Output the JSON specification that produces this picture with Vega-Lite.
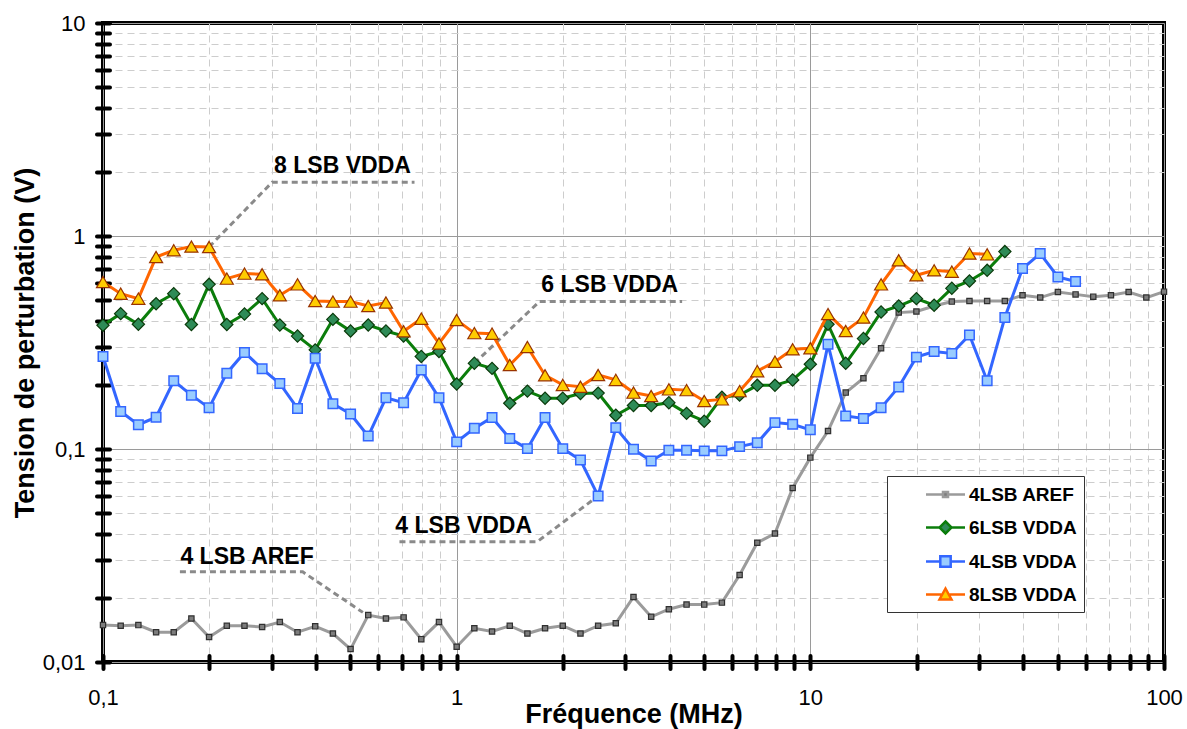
{
  "$schema": "https://vega.github.io/schema/vega-lite/v6.json",
  "width": 1061,
  "height": 639,
  "autosize": {"type": "none"},
  "padding": {"left": 103, "top": 23, "right": 23, "bottom": 67},
  "background": "white",
  "view": {"stroke": "black", "strokeWidth": 4, "fill": "white"},
  "datasets": {
    "mesures": [
      {"f": 0.1, "aref4": 0.0149, "vdda6": 0.381, "vdda4": 0.272, "vdda8": 0.608},
      {"f": 0.1122, "aref4": 0.0148, "vdda6": 0.432, "vdda4": 0.150, "vdda8": 0.536},
      {"f": 0.1259, "aref4": 0.0149, "vdda6": 0.385, "vdda4": 0.130, "vdda8": 0.508},
      {"f": 0.1413, "aref4": 0.0138, "vdda6": 0.481, "vdda4": 0.141, "vdda8": 0.797},
      {"f": 0.1585, "aref4": 0.0138, "vdda6": 0.536, "vdda4": 0.209, "vdda8": 0.857},
      {"f": 0.1778, "aref4": 0.0160, "vdda6": 0.384, "vdda4": 0.179, "vdda8": 0.892},
      {"f": 0.1995, "aref4": 0.0131, "vdda6": 0.593, "vdda4": 0.156, "vdda8": 0.888},
      {"f": 0.2239, "aref4": 0.0148, "vdda6": 0.384, "vdda4": 0.227, "vdda8": 0.631},
      {"f": 0.2512, "aref4": 0.0148, "vdda6": 0.430, "vdda4": 0.284, "vdda8": 0.666},
      {"f": 0.2818, "aref4": 0.0146, "vdda6": 0.508, "vdda4": 0.238, "vdda8": 0.661},
      {"f": 0.3162, "aref4": 0.0154, "vdda6": 0.382, "vdda4": 0.203, "vdda8": 0.527},
      {"f": 0.3548, "aref4": 0.0138, "vdda6": 0.339, "vdda4": 0.155, "vdda8": 0.593},
      {"f": 0.3981, "aref4": 0.0147, "vdda6": 0.292, "vdda4": 0.267, "vdda8": 0.495},
      {"f": 0.4467, "aref4": 0.0136, "vdda6": 0.406, "vdda4": 0.163, "vdda8": 0.492},
      {"f": 0.5012, "aref4": 0.0115, "vdda6": 0.358, "vdda4": 0.146, "vdda8": 0.492},
      {"f": 0.5623, "aref4": 0.0166, "vdda6": 0.382, "vdda4": 0.115, "vdda8": 0.469},
      {"f": 0.631, "aref4": 0.0160, "vdda6": 0.358, "vdda4": 0.174, "vdda8": 0.487},
      {"f": 0.7079, "aref4": 0.0162, "vdda6": 0.339, "vdda4": 0.165, "vdda8": 0.357},
      {"f": 0.7943, "aref4": 0.0128, "vdda6": 0.272, "vdda4": 0.235, "vdda8": 0.409},
      {"f": 0.8913, "aref4": 0.0154, "vdda6": 0.287, "vdda4": 0.174, "vdda8": 0.313},
      {"f": 1.0, "aref4": 0.0118, "vdda6": 0.202, "vdda4": 0.108, "vdda8": 0.403},
      {"f": 1.122, "aref4": 0.0144, "vdda6": 0.2525, "vdda4": 0.125, "vdda8": 0.350},
      {"f": 1.259, "aref4": 0.0139, "vdda6": 0.239, "vdda4": 0.1405, "vdda8": 0.348},
      {"f": 1.413, "aref4": 0.0148, "vdda6": 0.164, "vdda4": 0.112, "vdda8": 0.248},
      {"f": 1.585, "aref4": 0.0136, "vdda6": 0.187, "vdda4": 0.1004, "vdda8": 0.301},
      {"f": 1.778, "aref4": 0.0144, "vdda6": 0.173, "vdda4": 0.1405, "vdda8": 0.222},
      {"f": 1.995, "aref4": 0.0148, "vdda6": 0.173, "vdda4": 0.1004, "vdda8": 0.200},
      {"f": 2.239, "aref4": 0.0136, "vdda6": 0.182, "vdda4": 0.0888, "vdda8": 0.196},
      {"f": 2.512, "aref4": 0.0148, "vdda6": 0.183, "vdda4": 0.0602, "vdda8": 0.2226},
      {"f": 2.818, "aref4": 0.0152, "vdda6": 0.144, "vdda4": 0.126, "vdda8": 0.211},
      {"f": 3.162, "aref4": 0.0202, "vdda6": 0.160, "vdda4": 0.0997, "vdda8": 0.184},
      {"f": 3.548, "aref4": 0.0163, "vdda6": 0.160, "vdda4": 0.0879, "vdda8": 0.1774},
      {"f": 3.981, "aref4": 0.0177, "vdda6": 0.165, "vdda4": 0.0986, "vdda8": 0.1906},
      {"f": 4.467, "aref4": 0.0186, "vdda6": 0.147, "vdda4": 0.0986, "vdda8": 0.189},
      {"f": 5.012, "aref4": 0.0186, "vdda6": 0.135, "vdda4": 0.098, "vdda8": 0.168},
      {"f": 5.623, "aref4": 0.0190, "vdda6": 0.175, "vdda4": 0.098, "vdda8": 0.171},
      {"f": 6.31, "aref4": 0.0256, "vdda6": 0.179, "vdda4": 0.1026, "vdda8": 0.187},
      {"f": 7.079, "aref4": 0.0363, "vdda6": 0.199, "vdda4": 0.107, "vdda8": 0.232},
      {"f": 7.943, "aref4": 0.0401, "vdda6": 0.199, "vdda4": 0.133, "vdda8": 0.257},
      {"f": 8.913, "aref4": 0.0656, "vdda6": 0.211, "vdda4": 0.1306, "vdda8": 0.294},
      {"f": 10, "aref4": 0.0911, "vdda6": 0.250, "vdda4": 0.123, "vdda8": 0.297},
      {"f": 11.22, "aref4": 0.1215, "vdda6": 0.385, "vdda4": 0.310, "vdda8": 0.430},
      {"f": 12.59, "aref4": 0.184, "vdda6": 0.2525, "vdda4": 0.143, "vdda8": 0.358},
      {"f": 14.13, "aref4": 0.215, "vdda6": 0.330, "vdda4": 0.139, "vdda8": 0.414},
      {"f": 15.85, "aref4": 0.297, "vdda6": 0.440, "vdda4": 0.156, "vdda8": 0.593},
      {"f": 17.78, "aref4": 0.437, "vdda6": 0.469, "vdda4": 0.1955, "vdda8": 0.769},
      {"f": 19.95, "aref4": 0.442, "vdda6": 0.508, "vdda4": 0.270, "vdda8": 0.654},
      {"f": 22.39, "aref4": 0.469, "vdda6": 0.473, "vdda4": 0.287, "vdda8": 0.690},
      {"f": 25.12, "aref4": 0.492, "vdda6": 0.568, "vdda4": 0.281, "vdda8": 0.680},
      {"f": 28.18, "aref4": 0.495, "vdda6": 0.615, "vdda4": 0.343, "vdda8": 0.827},
      {"f": 31.62, "aref4": 0.495, "vdda6": 0.690, "vdda4": 0.209, "vdda8": 0.820},
      {"f": 35.48, "aref4": 0.495, "vdda6": 0.845, "vdda4": 0.414},
      {"f": 39.81, "aref4": 0.527, "vdda4": 0.703},
      {"f": 44.67, "aref4": 0.514, "vdda4": 0.827},
      {"f": 50.12, "aref4": 0.546, "vdda4": 0.642},
      {"f": 56.23, "aref4": 0.532, "vdda4": 0.611},
      {"f": 63.1, "aref4": 0.519},
      {"f": 70.79, "aref4": 0.527},
      {"f": 79.43, "aref4": 0.546},
      {"f": 89.13, "aref4": 0.514},
      {"f": 100, "aref4": 0.548}
    ],
    "renvois": [
      {"id": "8", "o": 0, "f": 0.1995, "v": 0.888},
      {"id": "8", "o": 1, "f": 0.301, "v": 1.79},
      {"id": "8", "o": 2, "f": 0.76, "v": 1.79},
      {"id": "6", "o": 0, "f": 1.122, "v": 0.2525},
      {"id": "6", "o": 1, "f": 1.713, "v": 0.492},
      {"id": "6", "o": 2, "f": 4.34, "v": 0.492},
      {"id": "4", "o": 0, "f": 0.689, "v": 0.0367},
      {"id": "4", "o": 1, "f": 1.69, "v": 0.0367},
      {"id": "4", "o": 2, "f": 2.512, "v": 0.0602},
      {"id": "a", "o": 0, "f": 0.165, "v": 0.0265},
      {"id": "a", "o": 1, "f": 0.367, "v": 0.0265},
      {"id": "a", "o": 2, "f": 0.543, "v": 0.0171}
    ],
    "etiquettes": [
      {"label": "8 LSB VDDA", "f": 0.4755, "v": 1.985},
      {"label": "6 LSB VDDA", "f": 2.709, "v": 0.546},
      {"label": "4 LSB VDDA", "f": 1.047, "v": 0.0402},
      {"label": "4 LSB AREF", "f": 0.2555, "v": 0.02897}
    ]
  },
  "data": {"name": "mesures"},
  "encoding": {
    "x": {
      "field": "f",
      "type": "quantitative",
      "title": "Fréquence (MHz)",
      "scale": {"type": "log", "domain": [0.1, 100], "nice": false},
      "axis": {
        "values": [0.1, 0.2, 0.3, 0.4, 0.5, 0.6, 0.7, 0.8, 0.9, 1, 2, 3, 4, 5, 6, 7, 8, 9, 10, 20, 30, 40, 50, 60, 70, 80, 90, 100],
        "offset": -6.5,
        "domain": false,
        "ticks": true,
        "tickSize": 13,
        "tickWidth": 4,
        "tickCap": "round",
        "tickColor": "black",
        "grid": true,
        "gridWidth": 1,
        "gridColor": {"condition": {"test": "abs(log(datum.value)/LN10 - round(log(datum.value)/LN10)) < 1e-6", "value": "#9A9A9A"}, "value": "#CDCDCD"},
        "gridDash": {"condition": {"test": "abs(log(datum.value)/LN10 - round(log(datum.value)/LN10)) < 1e-6", "value": []}, "value": [7, 5]},
        "labelExpr": "abs(log(datum.value)/LN10 - round(log(datum.value)/LN10)) < 1e-6 ? replace(format(datum.value, '~g'), '.', ',') : ''",
        "labelFont": "Liberation Sans",
        "labelFontSize": 22,
        "labelColor": "black",
        "labelPadding": 19,
        "labelFlush": false,
        "labelOverlap": false,
        "titleFont": "Liberation Sans",
        "titleFontSize": 27,
        "titleFontWeight": "bold",
        "titleColor": "black",
        "titleBaseline": "alphabetic",
        "titleY": 66.5
      }
    },
    "y": {
      "field": "v",
      "type": "quantitative",
      "title": "Tension de perturbation (V)",
      "scale": {"type": "log", "domain": [0.01, 10], "nice": false},
      "axis": {
        "values": [0.01, 0.02, 0.03, 0.04, 0.05, 0.06, 0.07, 0.08, 0.09, 0.1, 0.2, 0.3, 0.4, 0.5, 0.6, 0.7, 0.8, 0.9, 1, 2, 3, 4, 5, 6, 7, 8, 9, 10],
        "offset": -6.5,
        "domain": false,
        "ticks": true,
        "tickSize": 13,
        "tickWidth": 4,
        "tickCap": "round",
        "tickColor": "black",
        "grid": true,
        "gridWidth": 1,
        "gridColor": {"condition": {"test": "abs(log(datum.value)/LN10 - round(log(datum.value)/LN10)) < 1e-6", "value": "#9A9A9A"}, "value": "#CDCDCD"},
        "gridDash": {"condition": {"test": "abs(log(datum.value)/LN10 - round(log(datum.value)/LN10)) < 1e-6", "value": []}, "value": [7, 5]},
        "labelExpr": "abs(log(datum.value)/LN10 - round(log(datum.value)/LN10)) < 1e-6 ? replace(format(datum.value, '~g'), '.', ',') : ''",
        "labelFont": "Liberation Sans",
        "labelFontSize": 22,
        "labelColor": "black",
        "labelPadding": 11.5,
        "labelFlush": false,
        "labelOverlap": false,
        "labelBaseline": "middle",
        "titleFont": "Liberation Sans",
        "titleFontSize": 27,
        "titleFontWeight": "bold",
        "titleColor": "black",
        "titleBaseline": "alphabetic",
        "titleX": -76.5
      }
    }
  },
  "layer": [
    {
      "data": {"name": "renvois"},
      "mark": {"type": "line", "color": "#8A8A8A", "strokeWidth": 3, "strokeDash": [6, 4]},
      "encoding": {
        "detail": {"field": "id", "type": "nominal"},
        "order": {"field": "o", "type": "quantitative"}
      }
    },
    {
      "data": {"name": "etiquettes"},
      "mark": {"type": "text", "font": "Liberation Sans", "fontWeight": "bold", "fontSize": 23, "align": "center", "baseline": "alphabetic", "color": "black"},
      "encoding": {"text": {"field": "label", "type": "nominal"}}
    },
    {
      "transform": [{"fold": ["aref4"], "as": ["s", "v"]}],
      "mark": {
        "type": "line", "color": "#9B9B9B", "strokeWidth": 3,
        "point": {"filled": true, "opacity": 1, "shape": "square", "size": 28, "fill": "#7D7D7D", "stroke": "#303030", "strokeWidth": 1.2}
      }
    },
    {
      "transform": [{"fold": ["vdda6"], "as": ["s", "v"]}],
      "mark": {
        "type": "line", "color": "#0B7D0B", "strokeWidth": 3,
        "point": {"filled": true, "opacity": 1, "shape": "diamond", "size": 150, "fill": "#2E8B57", "stroke": "#0A3A0A", "strokeWidth": 1.2}
      }
    },
    {
      "transform": [{"fold": ["vdda4"], "as": ["s", "v"]}],
      "mark": {
        "type": "line", "color": "#3366FF", "strokeWidth": 3,
        "point": {"filled": true, "opacity": 1, "shape": "square", "size": 90, "fill": "#99CCFF", "stroke": "#3366FF", "strokeWidth": 1.5}
      }
    },
    {
      "transform": [{"fold": ["vdda8"], "as": ["s", "v"]}],
      "mark": {
        "type": "line", "color": "#FF6600", "strokeWidth": 3,
        "point": {"filled": true, "opacity": 1, "shape": "triangle-up", "size": 170, "fill": "#FFCC00", "stroke": "#993300", "strokeWidth": 1.2}
      }
    },
    {
      "data": {"values": []},
      "mark": {"type": "point", "filled": true, "opacity": 1, "size": 400, "strokeWidth": 2.5},
      "encoding": {
        "shape": {
          "field": "s", "type": "nominal",
          "scale": {
            "domain": ["4LSB AREF", "6LSB VDDA", "4LSB VDDA", "8LSB VDDA"],
            "range": [
              "M-1.95,0H-0.3M0.3,0H1.95M-0.25,-0.25H0.25V0.25H-0.25Z",
              "M-1.95,0H-0.62M0.62,0H1.95M0,-0.6L0.6,0L0,0.6L-0.6,0Z",
              "M-1.95,0H-0.55M0.55,0H1.95M-0.52,-0.52H0.52V0.52H-0.52Z",
              "M-1.95,0H-0.42M0.42,0H1.95M0,-0.6L0.6,0.5H-0.6Z"
            ]
          },
          "legend": {
            "title": null, "orient": "none", "legendX": 784, "legendY": 453,
            "padding": 7, "symbolOffset": 40, "labelOffset": 12, "rowPadding": 11,
            "labelFont": "Liberation Sans", "labelFontWeight": "bold", "labelFontSize": 19, "labelColor": "black",
            "strokeColor": "#333333", "fillColor": "white", "symbolSize": 400, "symbolStrokeWidth": 2.5, "symbolOpacity": 1,
            "labelExpr": "datum.label + '\u00a0\u00a0\u00a0\u00a0\u00a0\u00a0'"
          }
        },
        "fill": {
          "field": "s", "type": "nominal",
          "scale": {"domain": ["4LSB AREF", "6LSB VDDA", "4LSB VDDA", "8LSB VDDA"], "range": ["#7D7D7D", "#2E8B57", "#99CCFF", "#FFCC00"]}
        },
        "stroke": {
          "field": "s", "type": "nominal",
          "scale": {"domain": ["4LSB AREF", "6LSB VDDA", "4LSB VDDA", "8LSB VDDA"], "range": ["#9B9B9B", "#0B7D0B", "#3366FF", "#FF6600"]}
        }
      }
    }
  ]
}
